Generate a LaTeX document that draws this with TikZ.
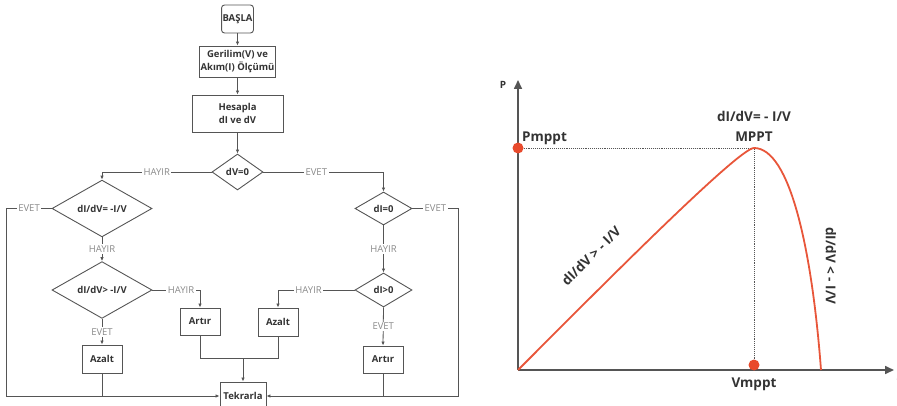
\documentclass[tikz,border=0pt]{standalone}
\usepackage{fontspec}
\setmainfont{Open Sans}
\usetikzlibrary{arrows.meta,positioning,shapes.geometric,calc}
\definecolor{flowgray}{HTML}{555555}
\definecolor{labelgray}{HTML}{8A8A8A}
\definecolor{textdark}{HTML}{333333}
\definecolor{curvered}{HTML}{E8563A}
\definecolor{dotred}{HTML}{E84A2C}
\tikzset{
  startnode/.style={rounded corners=3pt, draw=flowgray, line width=0.9pt, align=center, font=\fontsize{9.5}{12}\selectfont\bfseries, text=textdark, minimum width=31pt, minimum height=28pt, inner sep=1pt},
  process/.style={draw=flowgray, line width=0.9pt, align=center, font=\fontsize{9.5}{12.5}\selectfont\bfseries, text=textdark, inner sep=1pt},
  decision/.style={diamond, draw=flowgray, line width=0.9pt, align=center, font=\fontsize{9.5}{11}\selectfont\bfseries, text=textdark, inner sep=0pt},
  edge/.style={-{Latex[length=4pt,width=3.5pt]}, line width=0.8pt, draw=flowgray},
  link/.style={line width=0.8pt, draw=flowgray},
  cond/.style={fill=white, text=labelgray, font=\fontsize{9.5}{11}\selectfont, inner sep=1.5pt},
  axis/.style={-{Triangle[length=9pt,width=8pt]}, line width=1.6pt, draw=flowgray},
  guide/.style={densely dotted, line width=0.9pt, draw=flowgray},
  ptdot/.style={circle, fill=dotred, inner sep=0pt, minimum size=11pt},
  chartlbl/.style={font=\fontsize{13.5}{15}\selectfont\bfseries, text=textdark, inner sep=1pt}
}
\begin{document}
\begin{tikzpicture}[x=1pt, y=-1pt]
  \useasboundingbox (0,0) rectangle (897,406);
  \node[startnode] (start) at (237.5,19) {BAŞLA};
  \node[process, minimum width=74pt, minimum height=31pt] (meas) at (237.5,61.5) {Gerilim(V) ve\\Akım(I) Ölçümü};
  \node[process, minimum width=91pt, minimum height=37pt] (calc) at (237.5,113.5) {Hesapla\\dI ve dV};
  \node[decision, minimum width=51pt, minimum height=36pt] (dv) at (237.5,172) {dV=0};
  \node[decision, minimum width=100pt, minimum height=37pt] (dneq) at (102,208.5) {dI/dV= -I/V};
  \node[decision, minimum width=100pt, minimum height=34pt] (dgt) at (102,290) {dI/dV> -I/V};
  \node[decision, minimum width=57pt, minimum height=33pt] (dizero) at (383.5,208.5) {dI=0};
  \node[decision, minimum width=57pt, minimum height=34pt] (dipos) at (383.5,290) {dI>0};
  \node[process, minimum width=40pt, minimum height=28pt] (azl) at (102,359) {Azalt};
  \node[process, minimum width=40pt, minimum height=27pt] (artl) at (200,321.5) {Artır};
  \node[process, minimum width=40pt, minimum height=28pt] (azr) at (278,322) {Azalt};
  \node[process, minimum width=40pt, minimum height=27pt] (artr) at (383,359.5) {Artır};
  \node[process, minimum width=46pt, minimum height=28pt] (tek) at (243,396) {Tekrarla};
  \coordinate (join) at (243,358);
  \draw[edge] (start) -- (meas);
  \draw[edge] (meas) -- (calc);
  \draw[edge] (calc) -- (dv);
  \draw[edge] (dv.west) -| node[cond, pos=0.25] {HAYIR} (dneq.north);
  \draw[edge] (dv.east) -| node[cond, pos=0.22] {EVET} (dizero.north);
  \draw[edge] (dneq.west) -- node[cond] {EVET} ++(-45,0) |- (tek.west);
  \draw[edge] (dneq.south) -- node[cond] {HAYIR} (dgt.north);
  \draw[edge] (dgt.east) -| node[cond, pos=0.3] {HAYIR} (artl.north);
  \draw[edge] (dgt.south) -- node[cond] {EVET} (azl.north);
  \draw[link] (azl.south) -- (azl.south |- tek.west);
  \draw[edge] (dizero.east) -- node[cond] {EVET} ++(46,0) |- (tek.east);
  \draw[edge] (dizero.south) -- node[cond] {HAYIR} (dipos.north);
  \draw[edge] (dipos.west) -| node[cond, pos=0.3] {HAYIR} (azr.north);
  \draw[edge] (dipos.south) -- node[cond] {EVET} (artr.north);
  \draw[link] (artr.south) -- (artr.south |- tek.east);
  \draw[link] (artl.south) |- (join);
  \draw[link] (azr.south) |- (join);
  \draw[edge] (join) -- (tek.north);

  \coordinate (origin) at (518,370);
  \coordinate (ytop) at (518,80);
  \coordinate (xend) at (894,370);
  \coordinate (peak) at (754,148);
  \coordinate (vend) at (821,370);
  \draw[guide] (518,148) -- (peak) -- (754,370);
  \draw[axis] (origin) -- (ytop);
  \draw[axis] (origin) -- (xend);
  \draw[curvered, line width=1.8pt] (origin) .. controls (585,303) and (738,148) .. (peak) .. controls (790,148) and (812,250) .. (vend);
  \node[ptdot] (pdot) at (518,148) {};
  \node[ptdot] (vdot) at (754,365) {};
  \node[chartlbl, font=\fontsize{10}{11}\selectfont\bfseries] (plbl) at (503,85) {P};
  \node[chartlbl, font=\fontsize{10}{11}\selectfont\bfseries] (vlbl) at (900,383) {V};
  \node[chartlbl, anchor=west] (pmppt) at (521,138) {Pmppt};
  \node[chartlbl] (cond0) at (754,116) {dI/dV= - I/V};
  \node[chartlbl] (mppt) at (754,137) {MPPT};
  \node[chartlbl] (vmppt) at (754,384) {Vmppt};
  \node[chartlbl, rotate=45] (condgt) at (591,256) {dI/dV > - I/V};
  \node[chartlbl, rotate=-90] (condlt) at (831,266) {dI/dV < - I/V};
\end{tikzpicture}
\end{document}
